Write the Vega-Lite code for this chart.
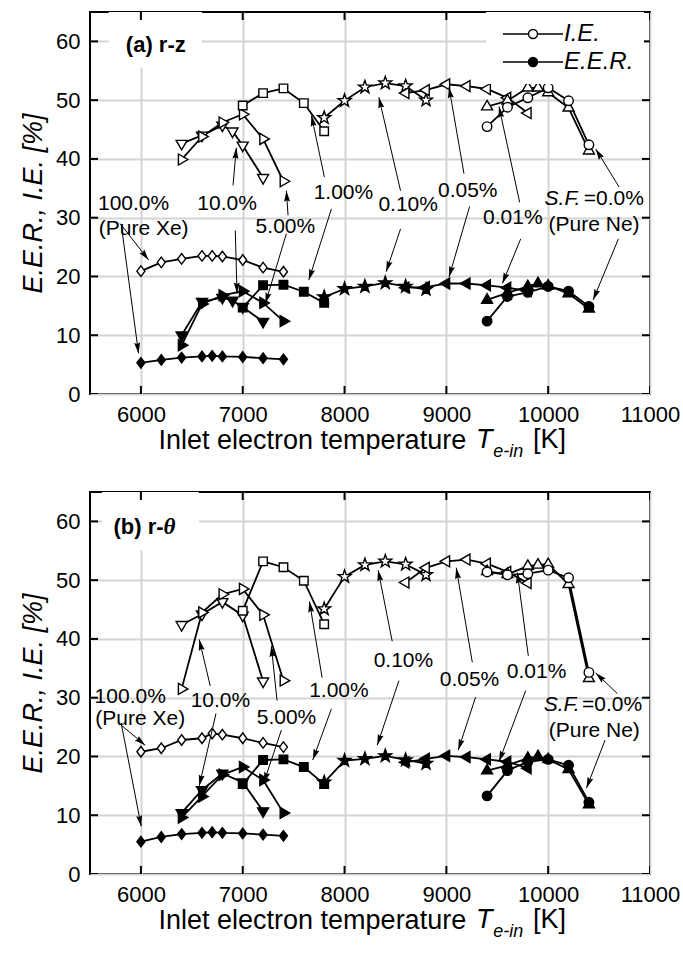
{
  "$schema": "https://vega.github.io/schema/vega-lite/v6.json",
  "background": "white",
  "padding": {"left": 18, "top": 11, "right": 0, "bottom": 0},
  "spacing": 28,
  "config": {
    "font": "Liberation Sans",
    "view": {"stroke": "black", "strokeWidth": 2},
    "text": {"font": "Liberation Sans", "fontSize": 21, "color": "black"},
    "tick": {"color": "black", "thickness": 2, "opacity": 1}
  },
  "resolve": {
    "scale": {"x": "independent", "y": "independent", "fill": "independent", "shape": "independent"},
    "legend": {"fill": "independent"}
  },
  "datasets": {
    "x_ticks": [{"t": 6000}, {"t": 7000}, {"t": 8000}, {"t": 9000}, {"t": 10000}, {"t": 11000}],
    "y_ticks": [{"t": 0}, {"t": 10}, {"t": 20}, {"t": 30}, {"t": 40}, {"t": 50}, {"t": 60}],
    "a_series": [
      {"s": "100", "m": "I.E.", "T": 6000, "v": 20.9}, {"s": "100", "m": "I.E.", "T": 6200, "v": 22.4}, {"s": "100", "m": "I.E.", "T": 6400, "v": 23.0},
      {"s": "100", "m": "I.E.", "T": 6600, "v": 23.5}, {"s": "100", "m": "I.E.", "T": 6700, "v": 23.5}, {"s": "100", "m": "I.E.", "T": 6800, "v": 23.4},
      {"s": "100", "m": "I.E.", "T": 7000, "v": 22.8}, {"s": "100", "m": "I.E.", "T": 7200, "v": 21.5}, {"s": "100", "m": "I.E.", "T": 7400, "v": 20.8},
      {"s": "10", "m": "I.E.", "T": 6400, "v": 42.6}, {"s": "10", "m": "I.E.", "T": 6600, "v": 44.0}, {"s": "10", "m": "I.E.", "T": 6800, "v": 45.7},
      {"s": "10", "m": "I.E.", "T": 6900, "v": 44.7}, {"s": "10", "m": "I.E.", "T": 7000, "v": 42.3}, {"s": "10", "m": "I.E.", "T": 7200, "v": 36.8},
      {"s": "5", "m": "I.E.", "T": 6400, "v": 39.9}, {"s": "5", "m": "I.E.", "T": 6600, "v": 43.8}, {"s": "5", "m": "I.E.", "T": 6800, "v": 46.2},
      {"s": "5", "m": "I.E.", "T": 7000, "v": 47.6}, {"s": "5", "m": "I.E.", "T": 7200, "v": 43.4}, {"s": "5", "m": "I.E.", "T": 7400, "v": 36.2},
      {"s": "1", "m": "I.E.", "T": 7000, "v": 49.1}, {"s": "1", "m": "I.E.", "T": 7200, "v": 51.2}, {"s": "1", "m": "I.E.", "T": 7400, "v": 52.0},
      {"s": "1", "m": "I.E.", "T": 7600, "v": 49.5}, {"s": "1", "m": "I.E.", "T": 7800, "v": 44.7},
      {"s": "0.1", "m": "I.E.", "T": 7800, "v": 47.0}, {"s": "0.1", "m": "I.E.", "T": 8000, "v": 49.9}, {"s": "0.1", "m": "I.E.", "T": 8200, "v": 52.2},
      {"s": "0.1", "m": "I.E.", "T": 8400, "v": 52.9}, {"s": "0.1", "m": "I.E.", "T": 8600, "v": 52.4}, {"s": "0.1", "m": "I.E.", "T": 8800, "v": 50.0},
      {"s": "0.05", "m": "I.E.", "T": 8600, "v": 51.2}, {"s": "0.05", "m": "I.E.", "T": 8800, "v": 51.7}, {"s": "0.05", "m": "I.E.", "T": 9000, "v": 52.7},
      {"s": "0.05", "m": "I.E.", "T": 9200, "v": 52.4}, {"s": "0.05", "m": "I.E.", "T": 9400, "v": 51.9}, {"s": "0.05", "m": "I.E.", "T": 9600, "v": 50.4},
      {"s": "0.05", "m": "I.E.", "T": 9800, "v": 47.8},
      {"s": "0.01", "m": "I.E.", "T": 9400, "v": 48.9}, {"s": "0.01", "m": "I.E.", "T": 9600, "v": 49.9}, {"s": "0.01", "m": "I.E.", "T": 9800, "v": 52.1},
      {"s": "0.01", "m": "I.E.", "T": 9900, "v": 52.1}, {"s": "0.01", "m": "I.E.", "T": 10000, "v": 51.3}, {"s": "0.01", "m": "I.E.", "T": 10200, "v": 48.7},
      {"s": "0.01", "m": "I.E.", "T": 10400, "v": 41.4},
      {"s": "0", "m": "I.E.", "T": 9400, "v": 45.5}, {"s": "0", "m": "I.E.", "T": 9600, "v": 48.8}, {"s": "0", "m": "I.E.", "T": 9800, "v": 50.4},
      {"s": "0", "m": "I.E.", "T": 10000, "v": 52.1}, {"s": "0", "m": "I.E.", "T": 10200, "v": 49.9}, {"s": "0", "m": "I.E.", "T": 10400, "v": 42.4},
      {"s": "100", "m": "E.E.R.", "T": 6000, "v": 5.3}, {"s": "100", "m": "E.E.R.", "T": 6200, "v": 5.8}, {"s": "100", "m": "E.E.R.", "T": 6400, "v": 6.2},
      {"s": "100", "m": "E.E.R.", "T": 6600, "v": 6.4}, {"s": "100", "m": "E.E.R.", "T": 6700, "v": 6.5}, {"s": "100", "m": "E.E.R.", "T": 6800, "v": 6.4},
      {"s": "100", "m": "E.E.R.", "T": 7000, "v": 6.3}, {"s": "100", "m": "E.E.R.", "T": 7200, "v": 6.1}, {"s": "100", "m": "E.E.R.", "T": 7400, "v": 5.9},
      {"s": "10", "m": "E.E.R.", "T": 6400, "v": 10.0}, {"s": "10", "m": "E.E.R.", "T": 6600, "v": 15.7}, {"s": "10", "m": "E.E.R.", "T": 6800, "v": 16.4},
      {"s": "10", "m": "E.E.R.", "T": 6900, "v": 15.9}, {"s": "10", "m": "E.E.R.", "T": 7000, "v": 14.8}, {"s": "10", "m": "E.E.R.", "T": 7200, "v": 12.3},
      {"s": "5", "m": "E.E.R.", "T": 6400, "v": 8.3}, {"s": "5", "m": "E.E.R.", "T": 6600, "v": 15.3}, {"s": "5", "m": "E.E.R.", "T": 6800, "v": 16.8},
      {"s": "5", "m": "E.E.R.", "T": 7000, "v": 17.5}, {"s": "5", "m": "E.E.R.", "T": 7200, "v": 15.5}, {"s": "5", "m": "E.E.R.", "T": 7400, "v": 12.4},
      {"s": "1", "m": "E.E.R.", "T": 7000, "v": 14.7}, {"s": "1", "m": "E.E.R.", "T": 7200, "v": 18.5}, {"s": "1", "m": "E.E.R.", "T": 7400, "v": 18.6},
      {"s": "1", "m": "E.E.R.", "T": 7600, "v": 17.4}, {"s": "1", "m": "E.E.R.", "T": 7800, "v": 15.5},
      {"s": "0.1", "m": "E.E.R.", "T": 7800, "v": 16.5}, {"s": "0.1", "m": "E.E.R.", "T": 8000, "v": 17.9}, {"s": "0.1", "m": "E.E.R.", "T": 8200, "v": 18.3},
      {"s": "0.1", "m": "E.E.R.", "T": 8400, "v": 18.9}, {"s": "0.1", "m": "E.E.R.", "T": 8600, "v": 18.3}, {"s": "0.1", "m": "E.E.R.", "T": 8800, "v": 17.8},
      {"s": "0.05", "m": "E.E.R.", "T": 8600, "v": 18.1}, {"s": "0.05", "m": "E.E.R.", "T": 8800, "v": 18.2}, {"s": "0.05", "m": "E.E.R.", "T": 9000, "v": 18.8},
      {"s": "0.05", "m": "E.E.R.", "T": 9200, "v": 18.8}, {"s": "0.05", "m": "E.E.R.", "T": 9400, "v": 18.5}, {"s": "0.05", "m": "E.E.R.", "T": 9600, "v": 18.1},
      {"s": "0.05", "m": "E.E.R.", "T": 9800, "v": 17.5},
      {"s": "0.01", "m": "E.E.R.", "T": 9400, "v": 16.0}, {"s": "0.01", "m": "E.E.R.", "T": 9600, "v": 17.2}, {"s": "0.01", "m": "E.E.R.", "T": 9800, "v": 18.3},
      {"s": "0.01", "m": "E.E.R.", "T": 9900, "v": 18.8}, {"s": "0.01", "m": "E.E.R.", "T": 10000, "v": 18.4}, {"s": "0.01", "m": "E.E.R.", "T": 10200, "v": 17.1},
      {"s": "0.01", "m": "E.E.R.", "T": 10400, "v": 14.5},
      {"s": "0", "m": "E.E.R.", "T": 9400, "v": 12.4}, {"s": "0", "m": "E.E.R.", "T": 9600, "v": 16.6}, {"s": "0", "m": "E.E.R.", "T": 9800, "v": 17.3},
      {"s": "0", "m": "E.E.R.", "T": 10000, "v": 18.3}, {"s": "0", "m": "E.E.R.", "T": 10200, "v": 17.5}, {"s": "0", "m": "E.E.R.", "T": 10400, "v": 14.9}
    ],
    "b_series": [
      {"s": "100", "m": "I.E.", "T": 6000, "v": 20.8}, {"s": "100", "m": "I.E.", "T": 6200, "v": 21.4}, {"s": "100", "m": "I.E.", "T": 6400, "v": 22.8},
      {"s": "100", "m": "I.E.", "T": 6600, "v": 23.1}, {"s": "100", "m": "I.E.", "T": 6700, "v": 23.9}, {"s": "100", "m": "I.E.", "T": 6800, "v": 23.7},
      {"s": "100", "m": "I.E.", "T": 7000, "v": 23.1}, {"s": "100", "m": "I.E.", "T": 7200, "v": 22.3}, {"s": "100", "m": "I.E.", "T": 7400, "v": 21.6},
      {"s": "10", "m": "I.E.", "T": 6400, "v": 42.4}, {"s": "10", "m": "I.E.", "T": 6600, "v": 44.2}, {"s": "10", "m": "I.E.", "T": 6800, "v": 46.3},
      {"s": "10", "m": "I.E.", "T": 7000, "v": 44.0}, {"s": "10", "m": "I.E.", "T": 7200, "v": 32.8},
      {"s": "5", "m": "I.E.", "T": 6400, "v": 31.5}, {"s": "5", "m": "I.E.", "T": 6600, "v": 44.5}, {"s": "5", "m": "I.E.", "T": 6800, "v": 47.6},
      {"s": "5", "m": "I.E.", "T": 7000, "v": 48.5}, {"s": "5", "m": "I.E.", "T": 7200, "v": 44.1}, {"s": "5", "m": "I.E.", "T": 7400, "v": 32.9},
      {"s": "1", "m": "I.E.", "T": 7000, "v": 44.8}, {"s": "1", "m": "I.E.", "T": 7200, "v": 53.2}, {"s": "1", "m": "I.E.", "T": 7400, "v": 52.2},
      {"s": "1", "m": "I.E.", "T": 7600, "v": 49.9}, {"s": "1", "m": "I.E.", "T": 7800, "v": 42.5},
      {"s": "0.1", "m": "I.E.", "T": 7800, "v": 45.1}, {"s": "0.1", "m": "I.E.", "T": 8000, "v": 50.6}, {"s": "0.1", "m": "I.E.", "T": 8200, "v": 52.6},
      {"s": "0.1", "m": "I.E.", "T": 8400, "v": 53.2}, {"s": "0.1", "m": "I.E.", "T": 8600, "v": 52.7}, {"s": "0.1", "m": "I.E.", "T": 8800, "v": 50.9},
      {"s": "0.05", "m": "I.E.", "T": 8600, "v": 49.6}, {"s": "0.05", "m": "I.E.", "T": 8800, "v": 52.1}, {"s": "0.05", "m": "I.E.", "T": 9000, "v": 53.2},
      {"s": "0.05", "m": "I.E.", "T": 9200, "v": 53.5}, {"s": "0.05", "m": "I.E.", "T": 9400, "v": 52.8}, {"s": "0.05", "m": "I.E.", "T": 9600, "v": 51.4},
      {"s": "0.05", "m": "I.E.", "T": 9800, "v": 49.5},
      {"s": "0.01", "m": "I.E.", "T": 9400, "v": 51.5}, {"s": "0.01", "m": "I.E.", "T": 9600, "v": 51.0}, {"s": "0.01", "m": "I.E.", "T": 9800, "v": 52.4},
      {"s": "0.01", "m": "I.E.", "T": 9900, "v": 52.6}, {"s": "0.01", "m": "I.E.", "T": 10000, "v": 52.7}, {"s": "0.01", "m": "I.E.", "T": 10200, "v": 49.3},
      {"s": "0.01", "m": "I.E.", "T": 10400, "v": 33.3},
      {"s": "0", "m": "I.E.", "T": 9400, "v": 51.4}, {"s": "0", "m": "I.E.", "T": 9600, "v": 50.9}, {"s": "0", "m": "I.E.", "T": 9800, "v": 51.1},
      {"s": "0", "m": "I.E.", "T": 10000, "v": 51.7}, {"s": "0", "m": "I.E.", "T": 10200, "v": 50.4}, {"s": "0", "m": "I.E.", "T": 10400, "v": 34.3},
      {"s": "100", "m": "E.E.R.", "T": 6000, "v": 5.5}, {"s": "100", "m": "E.E.R.", "T": 6200, "v": 6.3}, {"s": "100", "m": "E.E.R.", "T": 6400, "v": 6.8},
      {"s": "100", "m": "E.E.R.", "T": 6600, "v": 7.0}, {"s": "100", "m": "E.E.R.", "T": 6700, "v": 7.1}, {"s": "100", "m": "E.E.R.", "T": 6800, "v": 7.0},
      {"s": "100", "m": "E.E.R.", "T": 7000, "v": 6.9}, {"s": "100", "m": "E.E.R.", "T": 7200, "v": 6.7}, {"s": "100", "m": "E.E.R.", "T": 7400, "v": 6.5},
      {"s": "10", "m": "E.E.R.", "T": 6400, "v": 10.4}, {"s": "10", "m": "E.E.R.", "T": 6600, "v": 14.3}, {"s": "10", "m": "E.E.R.", "T": 6800, "v": 17.1},
      {"s": "10", "m": "E.E.R.", "T": 7000, "v": 15.6}, {"s": "10", "m": "E.E.R.", "T": 7200, "v": 10.7},
      {"s": "5", "m": "E.E.R.", "T": 6400, "v": 9.6}, {"s": "5", "m": "E.E.R.", "T": 6600, "v": 13.2}, {"s": "5", "m": "E.E.R.", "T": 6800, "v": 16.9},
      {"s": "5", "m": "E.E.R.", "T": 7000, "v": 18.2}, {"s": "5", "m": "E.E.R.", "T": 7200, "v": 16.0}, {"s": "5", "m": "E.E.R.", "T": 7400, "v": 10.4},
      {"s": "1", "m": "E.E.R.", "T": 7000, "v": 15.3}, {"s": "1", "m": "E.E.R.", "T": 7200, "v": 19.4}, {"s": "1", "m": "E.E.R.", "T": 7400, "v": 19.5},
      {"s": "1", "m": "E.E.R.", "T": 7600, "v": 18.2}, {"s": "1", "m": "E.E.R.", "T": 7800, "v": 15.3},
      {"s": "0.1", "m": "E.E.R.", "T": 7800, "v": 15.6}, {"s": "0.1", "m": "E.E.R.", "T": 8000, "v": 19.3}, {"s": "0.1", "m": "E.E.R.", "T": 8200, "v": 19.6},
      {"s": "0.1", "m": "E.E.R.", "T": 8400, "v": 20.1}, {"s": "0.1", "m": "E.E.R.", "T": 8600, "v": 19.4}, {"s": "0.1", "m": "E.E.R.", "T": 8800, "v": 18.8},
      {"s": "0.05", "m": "E.E.R.", "T": 8600, "v": 19.0}, {"s": "0.05", "m": "E.E.R.", "T": 8800, "v": 19.6}, {"s": "0.05", "m": "E.E.R.", "T": 9000, "v": 20.1},
      {"s": "0.05", "m": "E.E.R.", "T": 9200, "v": 19.9}, {"s": "0.05", "m": "E.E.R.", "T": 9400, "v": 19.5}, {"s": "0.05", "m": "E.E.R.", "T": 9600, "v": 19.1},
      {"s": "0.05", "m": "E.E.R.", "T": 9800, "v": 18.0},
      {"s": "0.01", "m": "E.E.R.", "T": 9400, "v": 17.6}, {"s": "0.01", "m": "E.E.R.", "T": 9600, "v": 18.5}, {"s": "0.01", "m": "E.E.R.", "T": 9800, "v": 19.7},
      {"s": "0.01", "m": "E.E.R.", "T": 9900, "v": 20.0}, {"s": "0.01", "m": "E.E.R.", "T": 10000, "v": 19.5}, {"s": "0.01", "m": "E.E.R.", "T": 10200, "v": 17.8},
      {"s": "0.01", "m": "E.E.R.", "T": 10400, "v": 11.8},
      {"s": "0", "m": "E.E.R.", "T": 9400, "v": 13.3}, {"s": "0", "m": "E.E.R.", "T": 9600, "v": 17.6}, {"s": "0", "m": "E.E.R.", "T": 9800, "v": 19.1},
      {"s": "0", "m": "E.E.R.", "T": 10000, "v": 19.5}, {"s": "0", "m": "E.E.R.", "T": 10200, "v": 18.5}, {"s": "0", "m": "E.E.R.", "T": 10400, "v": 12.2}
    ],
    "a_arrows": [
      {"T1": 5796, "v1": 29.0, "T2": 6076, "v2": 22.8}, {"T1": 5806, "v1": 28.9, "T2": 5977, "v2": 6.9},
      {"T1": 6905, "v1": 35.5, "T2": 6937, "v2": 41.9}, {"T1": 6927, "v1": 27.8, "T2": 6944, "v2": 17.1},
      {"T1": 7445, "v1": 30.4, "T2": 7429, "v2": 34.6}, {"T1": 7429, "v1": 27.3, "T2": 7222, "v2": 15.4},
      {"T1": 7802, "v1": 36.9, "T2": 7675, "v2": 47.4}, {"T1": 7871, "v1": 31.5, "T2": 7649, "v2": 19.4},
      {"T1": 8550, "v1": 34.6, "T2": 8337, "v2": 50.5}, {"T1": 8550, "v1": 28.1, "T2": 8409, "v2": 20.8},
      {"T1": 9173, "v1": 37.5, "T2": 9026, "v2": 52.2}, {"T1": 9228, "v1": 31.9, "T2": 9026, "v2": 19.9},
      {"T1": 9720, "v1": 32.6, "T2": 9517, "v2": 48.9}, {"T1": 9730, "v1": 26.4, "T2": 9550, "v2": 18.8},
      {"T1": 10697, "v1": 35.2, "T2": 10467, "v2": 41.7}, {"T1": 10690, "v1": 26.4, "T2": 10441, "v2": 16.0}
    ],
    "b_arrows": [
      {"T1": 5781, "v1": 25.7, "T2": 6042, "v2": 21.9}, {"T1": 5806, "v1": 25.7, "T2": 6003, "v2": 8.1},
      {"T1": 6681, "v1": 32.0, "T2": 6573, "v2": 39.9}, {"T1": 6737, "v1": 27.3, "T2": 6573, "v2": 15.0},
      {"T1": 7337, "v1": 29.5, "T2": 7281, "v2": 38.8}, {"T1": 7380, "v1": 24.5, "T2": 7206, "v2": 15.5},
      {"T1": 7780, "v1": 33.4, "T2": 7655, "v2": 46.4}, {"T1": 7871, "v1": 28.1, "T2": 7688, "v2": 19.4},
      {"T1": 8468, "v1": 39.6, "T2": 8330, "v2": 51.7}, {"T1": 8534, "v1": 32.9, "T2": 8321, "v2": 21.9},
      {"T1": 9255, "v1": 36.0, "T2": 9097, "v2": 52.1}, {"T1": 9287, "v1": 30.1, "T2": 9117, "v2": 21.1},
      {"T1": 9805, "v1": 37.1, "T2": 9697, "v2": 51.3}, {"T1": 9779, "v1": 31.2, "T2": 9517, "v2": 19.1},
      {"T1": 10680, "v1": 30.7, "T2": 10467, "v2": 34.2}, {"T1": 10559, "v1": 22.8, "T2": 10376, "v2": 14.6}
    ],
    "a_notes": [
      {"label": "100.0%", "T": 5928, "v": 32.4}, {"label": "(Pure Xe)", "T": 6027, "v": 28.1},
      {"label": "10.0%", "T": 6846, "v": 32.4}, {"label": "5.00%", "T": 7419, "v": 28.4},
      {"label": "1.00%", "T": 7989, "v": 34.2}, {"label": "0.10%", "T": 8625, "v": 32.1},
      {"label": "0.05%", "T": 9210, "v": 34.6}, {"label": "0.01%", "T": 9653, "v": 29.9},
      {"label": "=0.0%", "T": 10644, "v": 33.1}, {"label": "(Pure Ne)", "T": 10451, "v": 28.7}
    ],
    "b_notes": [
      {"label": "100.0%", "T": 5895, "v": 30.1}, {"label": "(Pure Xe)", "T": 5993, "v": 26.4},
      {"label": "10.0%", "T": 6781, "v": 29.5}, {"label": "5.00%", "T": 7430, "v": 26.6},
      {"label": "1.00%", "T": 7945, "v": 31.2}, {"label": "0.10%", "T": 8578, "v": 36.3},
      {"label": "0.05%", "T": 9227, "v": 33.0}, {"label": "0.01%", "T": 9886, "v": 34.3},
      {"label": "=0.0%", "T": 10628, "v": 28.7}, {"label": "(Pure Ne)", "T": 10453, "v": 24.3}
    ]
  },
  "vconcat": [
    {
      "width": 560,
      "height": 382,
      "resolve": {"axis": {"x": "independent", "y": "independent"}},
      "layer": [
        {
          "data": {"values": [{"x1": 5684, "x2": 6600, "y1": 55.5, "y2": 65}]},
          "mark": {"type": "rect", "fill": "white"},
          "encoding": {
            "x": {"field": "x1", "type": "quantitative", "scale": {"domain": [5500, 11000], "nice": false, "zero": false},
              "axis": {"orient": "bottom", "values": [6000, 7000, 8000, 9000, 10000, 11000], "format": "d", "ticks": false, "domain": false,
                "grid": true, "gridColor": "#d4d4d4", "gridWidth": 2, "labelFontSize": 22, "labelColor": "black", "labelPadding": 10,
                "labelFlush": false, "labelOverlap": false,
                "title": "Inlet electron temperature", "titleFontSize": 27, "titleFontWeight": "normal", "titleColor": "black",
                "titleAnchor": "start", "titleAlign": "left", "titleX": 68, "titleY": 46, "titleBaseline": "middle", "zindex": 0}},
            "x2": {"field": "x2"},
            "y": {"field": "y1", "type": "quantitative", "scale": {"domain": [0, 65], "nice": false, "zero": false},
              "axis": {"orient": "left", "values": [0, 10, 20, 30, 40, 50, 60], "ticks": false, "domain": false,
                "grid": true, "gridColor": "#d4d4d4", "gridWidth": 2, "labelFontSize": 22, "labelColor": "black", "labelPadding": 10,
                "labelFlush": false, "labelOverlap": false,
                "title": "E.E.R., I.E. [%]", "titleFontSize": 27, "titleFontWeight": "normal", "titleFontStyle": "italic",
                "titleColor": "black", "titlePadding": 8, "zindex": 0}},
            "y2": {"field": "y2"}
          }
        },
        {
          "data": {"name": "a_series"},
          "mark": {"type": "line", "color": "black", "strokeWidth": 1.8},
          "encoding": {
            "x": {"field": "T", "type": "quantitative", "scale": {"domain": [5500, 11000], "nice": false, "zero": false}, "axis": null},
            "y": {"field": "v", "type": "quantitative", "scale": {"domain": [0, 65], "nice": false, "zero": false}, "axis": null},
            "detail": [{"field": "s"}, {"field": "m"}],
            "order": {"field": "T", "type": "quantitative"}
          }
        },
        {
          "data": {"name": "a_series"},
          "mark": {"type": "point", "filled": true, "stroke": "black", "strokeWidth": 1.4, "size": 100, "opacity": 1},
          "encoding": {
            "x": {"field": "T", "type": "quantitative", "scale": {"domain": [5500, 11000], "nice": false, "zero": false}, "axis": null},
            "y": {"field": "v", "type": "quantitative", "scale": {"domain": [0, 65], "nice": false, "zero": false}, "axis": null},
            "shape": {"field": "s", "type": "nominal", "legend": null,
              "scale": {"domain": ["100", "10", "5", "1", "0.1", "0.05", "0.01", "0"],
                "range": ["M0,-1.05L0.8,0L0,1.05L-0.8,0Z", "M-1.1,-0.65L1.1,-0.65L0,1.25Z", "M-0.65,-1.1L1.25,0L-0.65,1.1Z",
                  "M-0.85,-0.85L0.85,-0.85L0.85,0.85L-0.85,0.85Z",
                  "M0,-1.35L0.317,-0.437L1.284,-0.417L0.514,0.167L0.794,1.092L0,0.54L-0.794,1.092L-0.514,0.167L-1.284,-0.417L-0.317,-0.437Z",
                  "M0.65,-1.1L-1.25,0L0.65,1.1Z", "M-1.1,0.65L1.1,0.65L0,-1.25Z",
                  "M0.95,0A0.95,0.95,0,1,1,-0.95,0A0.95,0.95,0,1,1,0.95,0Z"]}},
            "fill": {"field": "m", "type": "nominal",
              "scale": {"domain": ["I.E.", "E.E.R."], "range": ["white", "black"]},
              "legend": {"orient": "none", "legendX": 396, "legendY": 0, "title": null, "fillColor": "white", "padding": 10,
                "symbolType": "M-1,0L4.1,0M5.9,0L11,0M5.9,0A0.9,0.9,0,1,1,4.1,0A0.9,0.9,0,1,1,5.9,0Z",
                "symbolSize": 100, "symbolStrokeColor": "black", "symbolStrokeWidth": 1.5, "symbolOpacity": 1,
                "labelFontSize": 24, "labelFontStyle": "italic", "labelColor": "black", "labelOffset": 44, "rowPadding": 4}}
          }
        },
        {
          "data": {"name": "a_arrows"},
          "mark": {"type": "rule", "color": "black", "strokeWidth": 1},
          "encoding": {
            "x": {"field": "T1", "type": "quantitative", "scale": {"domain": [5500, 11000], "nice": false, "zero": false}, "axis": null},
            "y": {"field": "v1", "type": "quantitative", "scale": {"domain": [0, 65], "nice": false, "zero": false}, "axis": null},
            "x2": {"field": "T2"},
            "y2": {"field": "v2"}
          }
        },
        {
          "data": {"name": "a_arrows"},
          "transform": [{"calculate": "atan2((datum.T2 - datum.T1) * 0.1017, (datum.v2 - datum.v1) * 5.88) * 180 / PI", "as": "ang"}],
          "mark": {"type": "point", "shape": "M0,0L0.3,1.1L0,0.95L-0.3,1.1Z", "size": 400, "filled": true, "color": "black", "opacity": 1},
          "encoding": {
            "x": {"field": "T2", "type": "quantitative", "scale": {"domain": [5500, 11000], "nice": false, "zero": false}, "axis": null},
            "y": {"field": "v2", "type": "quantitative", "scale": {"domain": [0, 65], "nice": false, "zero": false}, "axis": null},
            "angle": {"field": "ang", "type": "quantitative", "scale": null}
          }
        },
        {
          "data": {"name": "x_ticks"},
          "mark": {"type": "tick", "orient": "vertical", "size": 16, "clip": true},
          "encoding": {
            "x": {"field": "t", "type": "quantitative", "scale": {"domain": [5500, 11000], "nice": false, "zero": false}, "axis": null},
            "y": {"datum": 65, "type": "quantitative", "scale": {"domain": [0, 65], "nice": false, "zero": false}, "axis": null}
          }
        },
        {
          "data": {"name": "x_ticks"},
          "mark": {"type": "tick", "orient": "vertical", "size": 16, "clip": true},
          "encoding": {
            "x": {"field": "t", "type": "quantitative", "scale": {"domain": [5500, 11000], "nice": false, "zero": false}, "axis": null},
            "y": {"datum": 0, "type": "quantitative", "scale": {"domain": [0, 65], "nice": false, "zero": false}, "axis": null}
          }
        },
        {
          "data": {"name": "y_ticks"},
          "mark": {"type": "tick", "orient": "horizontal", "size": 16, "clip": true},
          "encoding": {
            "x": {"datum": 5500, "type": "quantitative", "scale": {"domain": [5500, 11000], "nice": false, "zero": false}, "axis": null},
            "y": {"field": "t", "type": "quantitative", "scale": {"domain": [0, 65], "nice": false, "zero": false}, "axis": null}
          }
        },
        {
          "data": {"name": "y_ticks"},
          "mark": {"type": "tick", "orient": "horizontal", "size": 16, "clip": true},
          "encoding": {
            "x": {"datum": 11000, "type": "quantitative", "scale": {"domain": [5500, 11000], "nice": false, "zero": false}, "axis": null},
            "y": {"field": "t", "type": "quantitative", "scale": {"domain": [0, 65], "nice": false, "zero": false}, "axis": null}
          }
        },
        {
          "data": {"name": "a_notes"},
          "mark": {"type": "text", "align": "center", "baseline": "middle", "fontSize": 21},
          "encoding": {
            "x": {"field": "T", "type": "quantitative", "scale": {"domain": [5500, 11000], "nice": false, "zero": false}, "axis": null},
            "y": {"field": "v", "type": "quantitative", "scale": {"domain": [0, 65], "nice": false, "zero": false}, "axis": null},
            "text": {"field": "label"}
          }
        },
        {
          "data": {"values": [{"label": "S.F.", "T": 10140, "v": 33.1}]},
          "mark": {"type": "text", "align": "center", "baseline": "middle", "fontSize": 21, "fontStyle": "italic"},
          "encoding": {
            "x": {"field": "T", "type": "quantitative", "scale": {"domain": [5500, 11000], "nice": false, "zero": false}, "axis": null},
            "y": {"field": "v", "type": "quantitative", "scale": {"domain": [0, 65], "nice": false, "zero": false}, "axis": null},
            "text": {"field": "label"}
          }
        },
        {
          "data": {"values": [{"label": "(a) r-z", "T": 6146, "v": 59.3}]},
          "mark": {"type": "text", "align": "center", "baseline": "middle", "fontSize": 22, "fontWeight": "bold"},
          "encoding": {
            "x": {"field": "T", "type": "quantitative", "scale": {"domain": [5500, 11000], "nice": false, "zero": false}, "axis": null},
            "y": {"field": "v", "type": "quantitative", "scale": {"domain": [0, 65], "nice": false, "zero": false}, "axis": null},
            "text": {"field": "label"}
          }
        },
        {
          "data": {"values": [{"label": "T", "T": 9290, "v": -7.8}]},
          "mark": {"type": "text", "align": "left", "baseline": "middle", "fontSize": 27, "fontStyle": "italic"},
          "encoding": {
            "x": {"field": "T", "type": "quantitative", "scale": {"domain": [5500, 11000], "nice": false, "zero": false}, "axis": null},
            "y": {"field": "v", "type": "quantitative", "scale": {"domain": [0, 65], "nice": false, "zero": false}, "axis": null},
            "text": {"field": "label"}
          }
        },
        {
          "data": {"values": [{"label": "e-in", "T": 9460, "v": -9.9}]},
          "mark": {"type": "text", "align": "left", "baseline": "middle", "fontSize": 18, "fontStyle": "italic"},
          "encoding": {
            "x": {"field": "T", "type": "quantitative", "scale": {"domain": [5500, 11000], "nice": false, "zero": false}, "axis": null},
            "y": {"field": "v", "type": "quantitative", "scale": {"domain": [0, 65], "nice": false, "zero": false}, "axis": null},
            "text": {"field": "label"}
          }
        },
        {
          "data": {"values": [{"label": "[K]", "T": 9850, "v": -7.8}]},
          "mark": {"type": "text", "align": "left", "baseline": "middle", "fontSize": 27},
          "encoding": {
            "x": {"field": "T", "type": "quantitative", "scale": {"domain": [5500, 11000], "nice": false, "zero": false}, "axis": null},
            "y": {"field": "v", "type": "quantitative", "scale": {"domain": [0, 65], "nice": false, "zero": false}, "axis": null},
            "text": {"field": "label"}
          }
        }
      ]
    },
    {
      "width": 560,
      "height": 382,
      "resolve": {"axis": {"x": "independent", "y": "independent"}},
      "layer": [
        {
          "data": {"values": [{"x1": 5618, "x2": 6569, "y1": 55.1, "y2": 65}]},
          "mark": {"type": "rect", "fill": "white"},
          "encoding": {
            "x": {"field": "x1", "type": "quantitative", "scale": {"domain": [5500, 11000], "nice": false, "zero": false},
              "axis": {"orient": "bottom", "values": [6000, 7000, 8000, 9000, 10000, 11000], "format": "d", "ticks": false, "domain": false,
                "grid": true, "gridColor": "#d4d4d4", "gridWidth": 2, "labelFontSize": 22, "labelColor": "black", "labelPadding": 10,
                "labelFlush": false, "labelOverlap": false,
                "title": "Inlet electron temperature", "titleFontSize": 27, "titleFontWeight": "normal", "titleColor": "black",
                "titleAnchor": "start", "titleAlign": "left", "titleX": 68, "titleY": 46, "titleBaseline": "middle", "zindex": 0}},
            "x2": {"field": "x2"},
            "y": {"field": "y1", "type": "quantitative", "scale": {"domain": [0, 65], "nice": false, "zero": false},
              "axis": {"orient": "left", "values": [0, 10, 20, 30, 40, 50, 60], "ticks": false, "domain": false,
                "grid": true, "gridColor": "#d4d4d4", "gridWidth": 2, "labelFontSize": 22, "labelColor": "black", "labelPadding": 10,
                "labelFlush": false, "labelOverlap": false,
                "title": "E.E.R., I.E. [%]", "titleFontSize": 27, "titleFontWeight": "normal", "titleFontStyle": "italic",
                "titleColor": "black", "titlePadding": 8, "zindex": 0}},
            "y2": {"field": "y2"}
          }
        },
        {
          "data": {"name": "b_series"},
          "mark": {"type": "line", "color": "black", "strokeWidth": 1.8},
          "encoding": {
            "x": {"field": "T", "type": "quantitative", "scale": {"domain": [5500, 11000], "nice": false, "zero": false}, "axis": null},
            "y": {"field": "v", "type": "quantitative", "scale": {"domain": [0, 65], "nice": false, "zero": false}, "axis": null},
            "detail": [{"field": "s"}, {"field": "m"}],
            "order": {"field": "T", "type": "quantitative"}
          }
        },
        {
          "data": {"name": "b_series"},
          "mark": {"type": "point", "filled": true, "stroke": "black", "strokeWidth": 1.4, "size": 100, "opacity": 1},
          "encoding": {
            "x": {"field": "T", "type": "quantitative", "scale": {"domain": [5500, 11000], "nice": false, "zero": false}, "axis": null},
            "y": {"field": "v", "type": "quantitative", "scale": {"domain": [0, 65], "nice": false, "zero": false}, "axis": null},
            "shape": {"field": "s", "type": "nominal", "legend": null,
              "scale": {"domain": ["100", "10", "5", "1", "0.1", "0.05", "0.01", "0"],
                "range": ["M0,-1.05L0.8,0L0,1.05L-0.8,0Z", "M-1.1,-0.65L1.1,-0.65L0,1.25Z", "M-0.65,-1.1L1.25,0L-0.65,1.1Z",
                  "M-0.85,-0.85L0.85,-0.85L0.85,0.85L-0.85,0.85Z",
                  "M0,-1.35L0.317,-0.437L1.284,-0.417L0.514,0.167L0.794,1.092L0,0.54L-0.794,1.092L-0.514,0.167L-1.284,-0.417L-0.317,-0.437Z",
                  "M0.65,-1.1L-1.25,0L0.65,1.1Z", "M-1.1,0.65L1.1,0.65L0,-1.25Z",
                  "M0.95,0A0.95,0.95,0,1,1,-0.95,0A0.95,0.95,0,1,1,0.95,0Z"]}},
            "fill": {"field": "m", "type": "nominal",
              "scale": {"domain": ["I.E.", "E.E.R."], "range": ["white", "black"]}, "legend": null}
          }
        },
        {
          "data": {"name": "b_arrows"},
          "mark": {"type": "rule", "color": "black", "strokeWidth": 1},
          "encoding": {
            "x": {"field": "T1", "type": "quantitative", "scale": {"domain": [5500, 11000], "nice": false, "zero": false}, "axis": null},
            "y": {"field": "v1", "type": "quantitative", "scale": {"domain": [0, 65], "nice": false, "zero": false}, "axis": null},
            "x2": {"field": "T2"},
            "y2": {"field": "v2"}
          }
        },
        {
          "data": {"name": "b_arrows"},
          "transform": [{"calculate": "atan2((datum.T2 - datum.T1) * 0.1017, (datum.v2 - datum.v1) * 5.88) * 180 / PI", "as": "ang"}],
          "mark": {"type": "point", "shape": "M0,0L0.3,1.1L0,0.95L-0.3,1.1Z", "size": 400, "filled": true, "color": "black", "opacity": 1},
          "encoding": {
            "x": {"field": "T2", "type": "quantitative", "scale": {"domain": [5500, 11000], "nice": false, "zero": false}, "axis": null},
            "y": {"field": "v2", "type": "quantitative", "scale": {"domain": [0, 65], "nice": false, "zero": false}, "axis": null},
            "angle": {"field": "ang", "type": "quantitative", "scale": null}
          }
        },
        {
          "data": {"name": "x_ticks"},
          "mark": {"type": "tick", "orient": "vertical", "size": 16, "clip": true},
          "encoding": {
            "x": {"field": "t", "type": "quantitative", "scale": {"domain": [5500, 11000], "nice": false, "zero": false}, "axis": null},
            "y": {"datum": 65, "type": "quantitative", "scale": {"domain": [0, 65], "nice": false, "zero": false}, "axis": null}
          }
        },
        {
          "data": {"name": "x_ticks"},
          "mark": {"type": "tick", "orient": "vertical", "size": 16, "clip": true},
          "encoding": {
            "x": {"field": "t", "type": "quantitative", "scale": {"domain": [5500, 11000], "nice": false, "zero": false}, "axis": null},
            "y": {"datum": 0, "type": "quantitative", "scale": {"domain": [0, 65], "nice": false, "zero": false}, "axis": null}
          }
        },
        {
          "data": {"name": "y_ticks"},
          "mark": {"type": "tick", "orient": "horizontal", "size": 16, "clip": true},
          "encoding": {
            "x": {"datum": 5500, "type": "quantitative", "scale": {"domain": [5500, 11000], "nice": false, "zero": false}, "axis": null},
            "y": {"field": "t", "type": "quantitative", "scale": {"domain": [0, 65], "nice": false, "zero": false}, "axis": null}
          }
        },
        {
          "data": {"name": "y_ticks"},
          "mark": {"type": "tick", "orient": "horizontal", "size": 16, "clip": true},
          "encoding": {
            "x": {"datum": 11000, "type": "quantitative", "scale": {"domain": [5500, 11000], "nice": false, "zero": false}, "axis": null},
            "y": {"field": "t", "type": "quantitative", "scale": {"domain": [0, 65], "nice": false, "zero": false}, "axis": null}
          }
        },
        {
          "data": {"name": "b_notes"},
          "mark": {"type": "text", "align": "center", "baseline": "middle", "fontSize": 21},
          "encoding": {
            "x": {"field": "T", "type": "quantitative", "scale": {"domain": [5500, 11000], "nice": false, "zero": false}, "axis": null},
            "y": {"field": "v", "type": "quantitative", "scale": {"domain": [0, 65], "nice": false, "zero": false}, "axis": null},
            "text": {"field": "label"}
          }
        },
        {
          "data": {"values": [{"label": "S.F.", "T": 10132, "v": 28.7}]},
          "mark": {"type": "text", "align": "center", "baseline": "middle", "fontSize": 21, "fontStyle": "italic"},
          "encoding": {
            "x": {"field": "T", "type": "quantitative", "scale": {"domain": [5500, 11000], "nice": false, "zero": false}, "axis": null},
            "y": {"field": "v", "type": "quantitative", "scale": {"domain": [0, 65], "nice": false, "zero": false}, "axis": null},
            "text": {"field": "label"}
          }
        },
        {
          "data": {"values": [{"label": "(b) r-", "T": 5977, "v": 59.0}]},
          "mark": {"type": "text", "align": "center", "baseline": "middle", "fontSize": 22, "fontWeight": "bold"},
          "encoding": {
            "x": {"field": "T", "type": "quantitative", "scale": {"domain": [5500, 11000], "nice": false, "zero": false}, "axis": null},
            "y": {"field": "v", "type": "quantitative", "scale": {"domain": [0, 65], "nice": false, "zero": false}, "axis": null},
            "text": {"field": "label"}
          }
        },
        {
          "data": {"values": [{"label": "θ", "T": 6280, "v": 59.0}]},
          "mark": {"type": "text", "align": "center", "baseline": "middle", "fontSize": 23, "fontWeight": "bold", "fontStyle": "italic", "font": "Liberation Serif"},
          "encoding": {
            "x": {"field": "T", "type": "quantitative", "scale": {"domain": [5500, 11000], "nice": false, "zero": false}, "axis": null},
            "y": {"field": "v", "type": "quantitative", "scale": {"domain": [0, 65], "nice": false, "zero": false}, "axis": null},
            "text": {"field": "label"}
          }
        },
        {
          "data": {"values": [{"label": "T", "T": 9290, "v": -7.8}]},
          "mark": {"type": "text", "align": "left", "baseline": "middle", "fontSize": 27, "fontStyle": "italic"},
          "encoding": {
            "x": {"field": "T", "type": "quantitative", "scale": {"domain": [5500, 11000], "nice": false, "zero": false}, "axis": null},
            "y": {"field": "v", "type": "quantitative", "scale": {"domain": [0, 65], "nice": false, "zero": false}, "axis": null},
            "text": {"field": "label"}
          }
        },
        {
          "data": {"values": [{"label": "e-in", "T": 9460, "v": -9.9}]},
          "mark": {"type": "text", "align": "left", "baseline": "middle", "fontSize": 18, "fontStyle": "italic"},
          "encoding": {
            "x": {"field": "T", "type": "quantitative", "scale": {"domain": [5500, 11000], "nice": false, "zero": false}, "axis": null},
            "y": {"field": "v", "type": "quantitative", "scale": {"domain": [0, 65], "nice": false, "zero": false}, "axis": null},
            "text": {"field": "label"}
          }
        },
        {
          "data": {"values": [{"label": "[K]", "T": 9850, "v": -7.8}]},
          "mark": {"type": "text", "align": "left", "baseline": "middle", "fontSize": 27},
          "encoding": {
            "x": {"field": "T", "type": "quantitative", "scale": {"domain": [5500, 11000], "nice": false, "zero": false}, "axis": null},
            "y": {"field": "v", "type": "quantitative", "scale": {"domain": [0, 65], "nice": false, "zero": false}, "axis": null},
            "text": {"field": "label"}
          }
        }
      ]
    }
  ]
}
